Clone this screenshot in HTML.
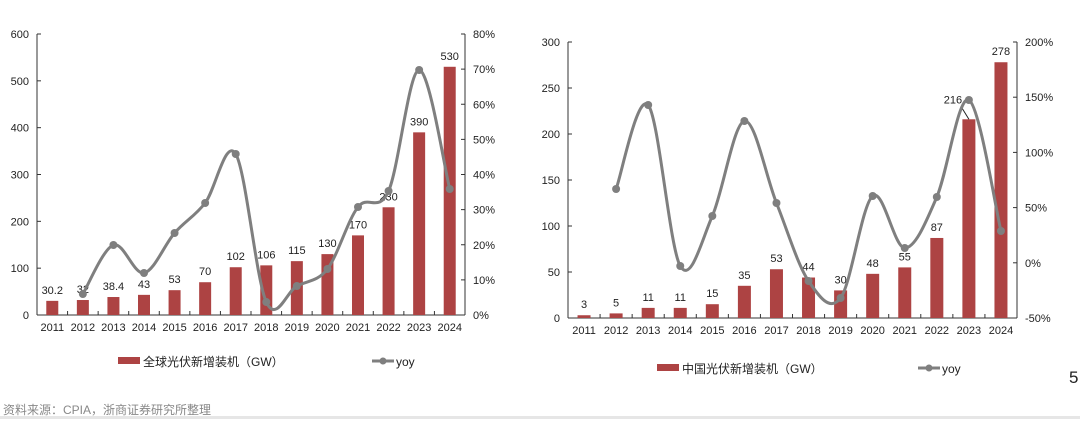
<!DOCTYPE html>
<html><head><meta charset="utf-8"><style>
body{margin:0;width:1080px;height:419px;background:#fff;overflow:hidden;font-family:"Liberation Sans","Noto Sans CJK SC",sans-serif}
svg text{font-family:"Liberation Sans","Noto Sans CJK SC",sans-serif}
</style></head><body>
<svg id="s" width="1080" height="419" xmlns="http://www.w3.org/2000/svg">
<rect x="0" y="416" width="1080" height="3" fill="#e6e6e6"/>
<text x="3" y="414" font-size="12" fill="#888">资料来源：CPIA，浙商证券研究所整理</text>
<text x="1069" y="383" font-size="17" fill="#222">5</text>
</svg>
<script>
const S=document.getElementById('s');const NS='http://www.w3.org/2000/svg';
function el(t,a,txt){const e=document.createElementNS(NS,t);for(const k in a)e.setAttribute(k,a[k]);if(txt!==undefined)e.textContent=txt;S.appendChild(e);return e;}
function smooth(p){let d='M'+p[0][0]+','+p[0][1];for(let i=0;i<p.length-1;i++){const p0=p[i-1]||p[i],p1=p[i],p2=p[i+1],p3=p[i+2]||p2;const t=6;d+=' C'+(p1[0]+(p2[0]-p0[0])/t)+','+(p1[1]+(p2[1]-p0[1])/t)+' '+(p2[0]-(p3[0]-p1[0])/t)+','+(p2[1]-(p3[1]-p1[1])/t)+' '+p2[0]+','+p2[1];}return d;}
function chart(c){
 const {x0,x1,yTop,yBot,vals,lmax,lstep,rl,yoy,bw,leg}=c;
 const n=14,cw=(x1-x0)/n;
 el('line',{x1:x0,y1:yTop,x2:x0,y2:yBot,stroke:'#333','stroke-width':1});
 el('line',{x1:x1,y1:yTop,x2:x1,y2:yBot,stroke:'#333','stroke-width':1});
 el('line',{x1:x0,y1:yBot,x2:x1,y2:yBot,stroke:'#333','stroke-width':1});
 for(let v=0;v<=lmax;v+=lstep){const y=yBot-(yBot-yTop)*v/lmax;el('line',{x1:x0,y1:y,x2:x0+4,y2:y,stroke:'#333'});el('text',{x:x0-8,y:y+4,'font-size':11,'text-anchor':'end',fill:'#222'},v);}
 rl.forEach((t,i)=>{const y=yTop+(yBot-yTop)*i/(rl.length-1);el('line',{x1:x1-4,y1:y,x2:x1,y2:y,stroke:'#333'});el('text',{x:x1+8,y:y+4,'font-size':11,fill:'#222'},t);});
 for(let i=0;i<=n;i++){const x=x0+i*cw;el('line',{x1:x,y1:yBot,x2:x,y2:yBot-4,stroke:'#333'});}
 vals.forEach((v,i)=>{const cx=x0+cw*(i+.5);const h=(yBot-yTop)*v/lmax;el('rect',{x:cx-bw/2,y:yBot-h,width:bw,height:h,fill:'#AD4343'});
  if(c.off&&c.off[i]){const o=c.off[i];el('line',{x1:cx+o[0]+8,y1:yBot-h-7+o[1]+3,x2:cx,y2:yBot-h,stroke:'#222','stroke-width':1});el('text',{x:cx+o[0],y:yBot-h-7+o[1],'font-size':11,'text-anchor':'middle',fill:'#222'},v);}
  else el('text',{x:cx,y:yBot-h-7,'font-size':11,'text-anchor':'middle',fill:'#222'},v);
  el('text',{x:cx,y:yBot+16,'font-size':11,'text-anchor':'middle',fill:'#222'},2011+i);});
 const pts=yoy.map((y,i)=>[x0+cw*(i+1.5),y]);
 el('path',{d:smooth(pts),fill:'none',stroke:'#7f7f7f','stroke-width':3});
 pts.forEach(p=>el('circle',{cx:p[0],cy:p[1],r:4,fill:'#7f7f7f'}));
 el('rect',{x:leg[0],y:leg[2]-4,width:22,height:7,fill:'#AD4343'});
 el('text',{x:leg[0]+25,y:leg[2]+5,'font-size':12,fill:'#222'},c.name);
 el('line',{x1:leg[1],y1:leg[2],x2:leg[1]+22,y2:leg[2],stroke:'#7f7f7f','stroke-width':3});
 el('circle',{cx:leg[1]+11,cy:leg[2],r:3.5,fill:'#7f7f7f'});
 el('text',{x:leg[1]+24,y:leg[2]+5,'font-size':12,fill:'#222'},'yoy');
}
chart({x0:37,x1:465,yTop:34,yBot:315,vals:[30.2,32,38.4,43,53,70,102,106,115,130,170,230,390,530],lmax:600,lstep:100,rl:['80%','70%','60%','50%','40%','30%','20%','10%','0%'],yoy:[294,245,273,233,203,154,302,286,269,207,191,70,189],bw:12,leg:[118,372,361],name:'全球光伏新增装机（GW）'});
chart({x0:568,x1:1017,yTop:42,yBot:318,vals:[3,5,11,11,15,35,53,44,30,48,55,87,216,278],lmax:300,lstep:50,rl:['200%','150%','100%','50%','0%','-50%'],yoy:[189,105,266,216,121,203,281,298,196,248,197,100,231],bw:13,leg:[657,918,368],name:'中国光伏新增装机（GW）',off:{12:[-16,-9]}});
</script>
</body></html>
